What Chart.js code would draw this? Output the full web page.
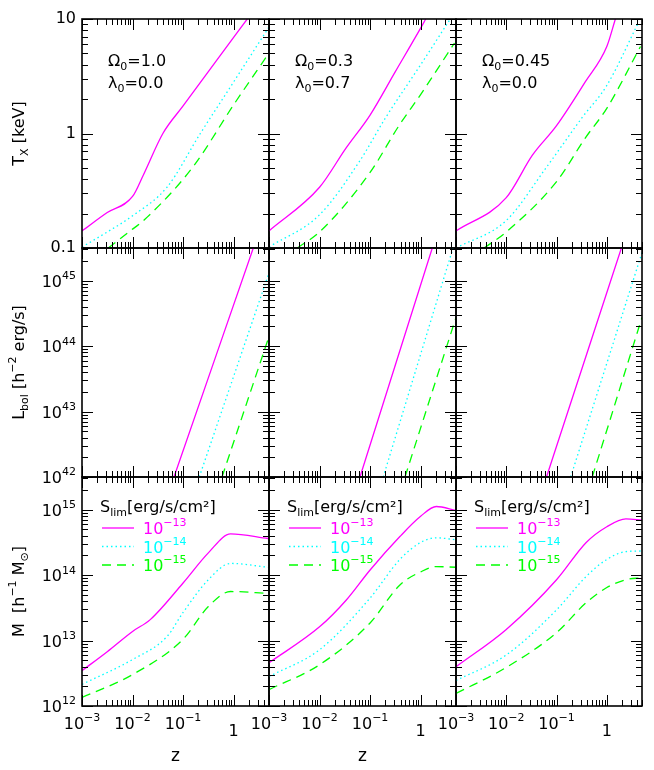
<!DOCTYPE html>
<html><head><meta charset="utf-8">
<script src="https://cdn.jsdelivr.net/npm/chart.js@4/dist/chart.umd.min.js"></script>
<style>body{margin:0;background:#fff;width:654px;height:770px;position:relative;overflow:hidden}canvas{position:absolute;left:0;top:0}</style>
</head><body>
<script>
// ---- data ----
const models = ["Ω0=1.0 λ0=0.0","Ω0=0.3 λ0=0.7","Ω0=0.45 λ0=0.0"];
const fluxLimits = ["-13","-14","-15"];
// Temperature T_X [keV]
const tx1_m_z=[0.001,0.00316,0.01,0.0162,0.0398,0.1,0.316,1,1.86], tx1_m=[0.141,0.204,0.282,0.43,1.0,1.74,3.47,6.92,10];
const tx1_c_z=[0.001,0.00316,0.01,0.0479,0.219,1,5.01], tx1_c=[0.102,0.138,0.191,0.339,1.0,2.82,8.51];
const tx1_g_z=[0.00331,0.00794,0.0195,0.158,1,4.79], tx1_g=[0.1,0.135,0.186,0.513,1.78,4.9];
const tx2_m_z=[0.001,0.01,0.0331,0.1,0.316,1,1.26], tx2_m=[0.141,0.339,0.741,1.45,3.47,8.32,10];
const tx2_c_z=[0.001,0.01,0.0603,0.204,1,3.72], tx2_c=[0.102,0.195,0.562,1.38,3.98,9.77];
const tx2_g_z=[0.00363,0.01,0.1,0.372,1,4.68], tx2_g=[0.1,0.138,0.457,1.17,2.19,6.17];
const tx3_m_z=[0.001,0.01,0.0331,0.1,0.372,1,1.48], tx3_m=[0.141,0.275,0.646,1.17,2.82,5.75,10];
const tx3_c_z=[0.001,0.01,0.0617,0.324,1,4.27], tx3_c=[0.1,0.174,0.501,1.38,2.63,9.33];
const tx3_g_z=[0.00363,0.01,0.1,0.372,1,4.68], tx3_g=[0.1,0.138,0.38,0.912,1.66,5.75];
// Bolometric luminosity L_bol [h^-2 erg/s]
const lb1_m_z=[0.0661,2.45], lb1_m=[1e42,3.16e45];
const lb1_c_z=[0.209,5.01], lb1_c=[1e42,1.32e45];
const lb1_g_z=[0.589,5.01], lb1_g=[1e42,1.41e44];
const lb2_m_z=[0.0631,1.70], lb2_m=[1e42,3.16e45];
const lb2_c_z=[0.182,4.37], lb2_c=[1e42,3.16e45];
const lb2_g_z=[0.490,5.01], lb2_g=[1e42,2.75e44];
const lb3_m_z=[0.0631,1.95], lb3_m=[1e42,3.16e45];
const lb3_c_z=[0.191,5.01], lb3_c=[1e42,2.69e45];
const lb3_g_z=[0.513,5.01], lb3_g=[1e42,2.75e44];
// Mass M [h^-1 Msun]
const ms1_m_z=[0.001,0.00316,0.01,0.0224,0.1,0.316,0.871,4.79], ms1_m=[3.47e12,6.76e12,1.38e13,2.09e13,7.59e13,2.19e14,4.27e14,3.63e14];
const ms1_c_z=[0.001,0.01,0.0479,0.1,0.316,0.871,4.79], ms1_c=[2.14e12,5.13e12,1.15e13,2.69e13,8.51e13,1.51e14,1.32e14];
const ms1_g_z=[0.001,0.01,0.1,0.316,0.871,4.79], ms1_g=[1.35e12,3.02e12,1.05e13,3.31e13,5.62e13,5.25e13];
const ms2_m_z=[0.001,0.01,0.0339,0.1,0.389,1,2.04,5.01], ms2_m=[4.57e12,1.62e13,4.17e13,1.2e14,3.89e14,7.94e14,1.12e15,9.77e14];
const ms2_c_z=[0.001,0.01,0.1,0.389,1,2.04,5.01], ms2_c=[2.82e12,7.24e12,4.47e13,1.74e14,3.16e14,3.72e14,3.47e14];
const ms2_g_z=[0.001,0.01,0.1,0.389,1,2.04,5.01], ms2_g=[1.78e12,4.27e12,1.86e13,7.08e13,1.12e14,1.35e14,1.32e14];
const ms3_m_z=[0.001,0.01,0.1,0.389,1,2.4,5.01], ms3_m=[3.98e12,1.48e13,8.51e13,3.16e14,5.5e14,7.24e14,6.92e14];
const ms3_c_z=[0.001,0.01,0.1,0.389,1,2.4,5.01], ms3_c=[2.45e12,6.03e12,2.95e13,9.55e13,1.74e14,2.29e14,2.34e14];
const ms3_g_z=[0.001,0.01,0.1,0.389,1,2.4,5.01], ms3_g=[1.55e12,3.89e12,1.32e13,3.8e13,6.46e13,8.51e13,9.12e13];
// tick labels
const xTickLabels=[[0.001,"10","-3"],[0.01,"10","-2"],[0.1,"10","-1"],[1,"1",""]];
const yTickLabels=[[[10,"10",""],[1,"1",""],[0.1,"0.1",""]],
  [[1e45,"10","45"],[1e44,"10","44"],[1e43,"10","43"],[1e42,"10","42"]],
  [[1e15,"10","15"],[1e14,"10","14"],[1e13,"10","13"],[1e12,"10","12"]]];

// ---- layout ----
const W=654,H=770;
const colX=[82,269,456,642], rowY=[19,248,477,706];
const yRanges=[[0.1,10],[1e42,3.162e45],[1e12,3.162e15]];
const XMIN=0.001, XMAX=5.01;
const FONT='"DejaVu Sans"';
const MAG='#ff00ff', CYA='#00ffff', GRN='#00ff00';
const styles=[{c:MAG,d:[]},{c:CYA,d:[1.5,3]},{c:GRN,d:[9,6]}];

function pts(zs,vs){return zs.map((z,i)=>({x:z,y:vs[i]}));}
const panelData=[
 [[tx1_m_z,tx1_m,tx1_c_z,tx1_c,tx1_g_z,tx1_g],[tx2_m_z,tx2_m,tx2_c_z,tx2_c,tx2_g_z,tx2_g],[tx3_m_z,tx3_m,tx3_c_z,tx3_c,tx3_g_z,tx3_g]],
 [[lb1_m_z,lb1_m,lb1_c_z,lb1_c,lb1_g_z,lb1_g],[lb2_m_z,lb2_m,lb2_c_z,lb2_c,lb2_g_z,lb2_g],[lb3_m_z,lb3_m,lb3_c_z,lb3_c,lb3_g_z,lb3_g]],
 [[ms1_m_z,ms1_m,ms1_c_z,ms1_c,ms1_g_z,ms1_g],[ms2_m_z,ms2_m,ms2_c_z,ms2_c,ms2_g_z,ms2_g],[ms3_m_z,ms3_m,ms3_c_z,ms3_c,ms3_g_z,ms3_g]]];

function segFont(k,base){return (k==='n'?base:Math.round(base*0.66))+'px '+FONT;}
function richWidth(ctx,segs,base){let w=0;for(const s of segs){ctx.font=segFont(s.k,base);w+=ctx.measureText(s.t).width;}return w;}
function drawRich(ctx,segs,x,y,align,color,base){
  base=base||15;const w=richWidth(ctx,segs,base);
  let cx=align==='right'?x-w:align==='center'?x-w/2:x;
  ctx.fillStyle=color||'#000';ctx.textBaseline='middle';ctx.textAlign='left';
  for(const s of segs){ctx.font=segFont(s.k,base);
    const dy=s.k==='sup'?-base*0.4:s.k==='sub'?base*0.3:0;
    ctx.fillText(s.t,cx,y+dy);cx+=ctx.measureText(s.t).width;}
}
function logTicks(min,max){const maj=[],mnr=[];
  for(let e=Math.floor(Math.log10(min))-1;e<=Math.ceil(Math.log10(max));e++){
    for(let m=1;m<10;m++){const v=m*Math.pow(10,e);if(v<min*0.999||v>max*1.001)continue;(m===1?maj:mnr).push(v);}}
  return {maj,mnr};}

const framePlugin={id:'frame',afterDatasetsDraw(chart,args,opts){
  const {ctx,chartArea:a,scales:{x,y}}=chart;const r=opts.row,c=opts.col;
  ctx.save();ctx.strokeStyle='#000';ctx.lineWidth=1;ctx.setLineDash([]);
  const xt=logTicks(XMIN,XMAX), yt=logTicks(yRanges[r][0],yRanges[r][1]);
  ctx.beginPath();
  for(const [list,L] of [[xt.maj,11],[xt.mnr,6]])for(const v of list){const px=Math.round(x.getPixelForValue(v))+0.5;
    ctx.moveTo(px,a.bottom);ctx.lineTo(px,a.bottom-L);ctx.moveTo(px,a.top);ctx.lineTo(px,a.top+L);}
  for(const [list,L] of [[yt.maj,11],[yt.mnr,6]])for(const v of list){const py=Math.round(y.getPixelForValue(v))+0.5;
    ctx.moveTo(a.left,py);ctx.lineTo(a.left+L,py);ctx.moveTo(a.right,py);ctx.lineTo(a.right-L,py);}
  ctx.stroke();
  ctx.lineWidth=1.6;ctx.strokeRect(a.left,a.top,a.right-a.left,a.bottom-a.top);
  if(c===0){for(const [v,b,e] of yTickLabels[r]){const py=y.getPixelForValue(v);
      const segs=[{t:b,k:'n'}];if(e)segs.push({t:e,k:'sup'});drawRich(ctx,segs,a.left-6,py+(e?2:0),'right','#000',16);}}
  if(r===2){for(const [v,b,e] of xTickLabels){const px=x.getPixelForValue(v);
      const segs=[{t:b,k:'n'}];if(e)segs.push({t:'−'+e.slice(1),k:'sup'});drawRich(ctx,segs,px,e?a.bottom+19:a.bottom+26,'center','#000',16);}}
  if(r===0){const parts=models[c].split(' ');
    drawRich(ctx,[{t:'Ω',k:'n'},{t:'0',k:'sub'},{t:'='+parts[0].split('=')[1],k:'n'}],a.left+26,a.top+43,'left','#000',16);
    drawRich(ctx,[{t:'λ',k:'n'},{t:'0',k:'sub'},{t:'='+parts[1].split('=')[1],k:'n'}],a.left+26,a.top+65,'left','#000',16);}
  if(r===2){drawRich(ctx,[{t:'S',k:'n'},{t:'lim',k:'sub'},{t:'[erg/s/cm²]',k:'n'}],a.left+18,a.top+31,'left','#000',16);
    fluxLimits.forEach((f,i)=>{const yy=a.top+51+i*18.5;ctx.strokeStyle=styles[i].c;ctx.lineWidth=1.3;ctx.setLineDash(styles[i].d);
      ctx.beginPath();ctx.moveTo(a.left+20,yy);ctx.lineTo(a.left+52,yy);ctx.stroke();ctx.setLineDash([]);
      drawRich(ctx,[{t:'10',k:'n'},{t:'−'+f.slice(1),k:'sup'}],a.left+61,yy+2,'left',styles[i].c,16);});}
  if(c===0){const titles=[[{t:'T',k:'n'},{t:'X',k:'sub'},{t:' [keV]',k:'n'}],
      [{t:'L',k:'n'},{t:'bol',k:'sub'},{t:' [h',k:'n'},{t:'−2',k:'sup'},{t:' erg/s]',k:'n'}],
      [{t:'M  [h',k:'n'},{t:'−1',k:'sup'},{t:' M',k:'n'},{t:'⊙',k:'sub'},{t:']',k:'n'}]];
    ctx.save();ctx.translate(20,(a.top+a.bottom)/2);ctx.rotate(-Math.PI/2);drawRich(ctx,titles[r],0,0,'center','#000',16);ctx.restore();}
  if(r===2&&c<2){ctx.fillStyle='#000';ctx.font='17px '+FONT;ctx.textAlign='center';ctx.textBaseline='middle';ctx.fillText('z',(a.left+a.right)/2,757);}
  ctx.restore();}};

for(let r=0;r<3;r++)for(let c=0;c<3;c++){
  const cv=document.createElement('canvas');cv.width=W;cv.height=H;cv.style.width=W+'px';cv.style.height=H+'px';document.body.appendChild(cv);
  const d=panelData[r][c];
  const datasets=[0,1,2].map(i=>({data:pts(d[2*i],d[2*i+1]),borderColor:styles[i].c,borderDash:styles[i].d,borderWidth:1.3,
    pointRadius:0,fill:false,cubicInterpolationMode:'monotone'}));
  new Chart(cv.getContext('2d'),{type:'line',data:{datasets},plugins:[framePlugin],
    options:{responsive:false,animation:false,devicePixelRatio:1,
      layout:{padding:{left:colX[c],right:W-colX[c+1],top:rowY[r],bottom:H-rowY[r+1]}},
      scales:{x:{type:'logarithmic',min:XMIN,max:XMAX,display:false},y:{type:'logarithmic',min:yRanges[r][0],max:yRanges[r][1],display:false}},
      plugins:{legend:{display:false},tooltip:{enabled:false},frame:{row:r,col:c}}}});
}
</script>
</body></html>
